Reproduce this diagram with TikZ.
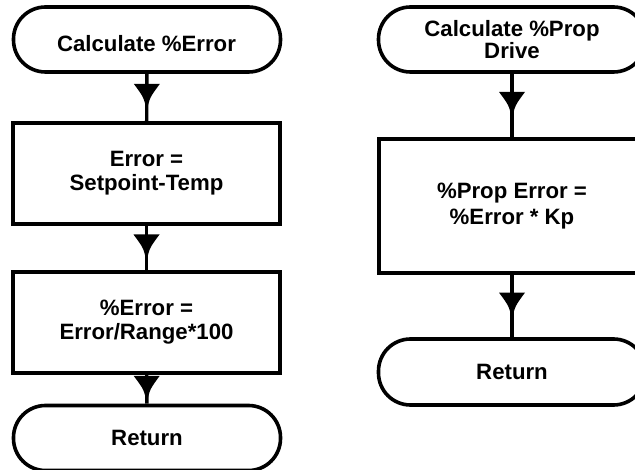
\documentclass[tikz,border=0pt]{standalone}
\usepackage{fontspec}
\setmainfont{Liberation Sans}
\usetikzlibrary{decorations.markings}
\begin{document}
\begin{tikzpicture}[x=1pt,y=-1pt,
  txt/.style={font=\fontsize{22.2}{24}\selectfont\bfseries, align=center, inner sep=0pt},
  termtxt/.style={font=\fontsize{22.2}{21.5}\selectfont\bfseries, align=center, inner sep=0pt},
  term/.style={termtxt, draw, line width=3.6pt, rectangle, rounded corners=32pt, minimum width=267pt, minimum height=65pt},
  procbox/.style={txt, draw, line width=4pt, rectangle, minimum width=267pt},
  conn/.style={line width=3.4pt, postaction={decorate, decoration={markings,
     mark=at position 0.5 with {\fill (13.5pt,0pt) .. controls (0pt,3pt) .. (-13.5pt,13pt) -- (-13.5pt,-13pt) .. controls (0pt,-3pt) .. (13.5pt,0pt) -- cycle;}}}}
]
\useasboundingbox (0,0) rectangle (635,470);
\clip (0,0) rectangle (635,470);
% left column
\node[term] (t1) at (147,39.5) {};
\node[termtxt] (t1txt) at (146.5,44) {Calculate \%Error};
\node[procbox, minimum height=101pt] (b1) at (146.5,173.5) {Error =\\Setpoint-Temp};
\node[procbox, minimum height=101pt] (b2) at (146.5,322.5) {\%Error =\\Error/Range*100};
\node[term] (r1) at (147,438) {Return};
\draw[conn] (t1) -- (b1);
\draw[conn] (b1) -- (b2);
\draw[conn] (b2) -- (r1);
% right column
\node[term] (t2) at (512,39.5) {Calculate \%Prop\\Drive};
\node[procbox, minimum height=134pt, font=\fontsize{22.2}{25.5}\selectfont\bfseries] (b3) at (512,206) {\%Prop Error =\\\%Error * Kp};
\node[term, minimum height=66pt] (r2) at (512,372) {Return};
\draw[conn] (t2) -- (b3);
\draw[conn] (b3) -- (r2);
\end{tikzpicture}
\end{document}
